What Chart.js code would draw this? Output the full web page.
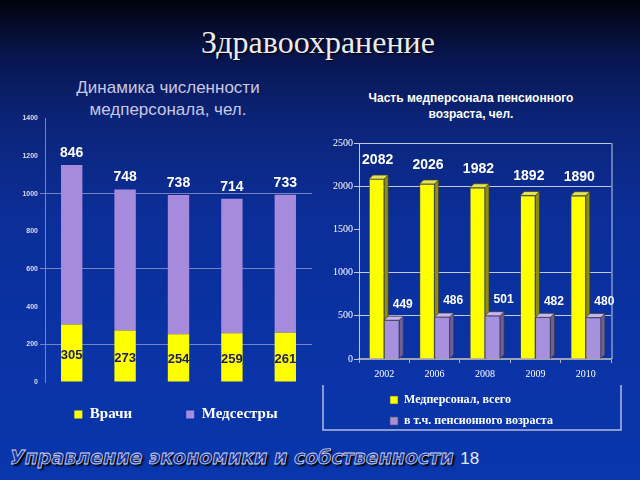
<!DOCTYPE html>
<html>
<head>
<meta charset="utf-8">
<script src="https://cdn.jsdelivr.net/npm/chart.js@4.4.1/dist/chart.umd.min.js"></script>
<style>
  html, body { margin: 0; padding: 0; }
  body {
    width: 640px; height: 480px; overflow: hidden; position: relative;
    background: linear-gradient(to bottom, #01030c 0%, #081650 12%, #0b2478 25%, #0b2e98 45%, #0a33a6 75%, #0936ac 100%);
    font-family: "Liberation Sans", Arial, sans-serif;
  }
  #title { position: absolute; left: 0; top: 24px; width: 636px; text-align: center;
    font: 32px "Liberation Serif", serif; color: #ecebf2; text-shadow: 1px 1px 2px #000; }
  #leftTitle { position: absolute; left: 0; top: 77px; width: 336px; text-align: center;
    font: 17px/22px "Liberation Sans", Arial, sans-serif; color: #c9c8e6; }
  #rightTitle { position: absolute; left: 330px; top: 90px; width: 282px; text-align: center;
    font: bold 12px/16px "Liberation Sans", Arial, sans-serif; color: #fff; }
  #footer { position: absolute; left: 10px; top: 446px; white-space: nowrap;
    font: italic bold 19px "DejaVu Sans", sans-serif; color: #1536a8;
    -webkit-text-stroke: 0.8px #d4d6e8; text-shadow: 2px 2px 2px #000; }
  #footer span { font: 17px "Liberation Sans", Arial, sans-serif; color: #e8e8ff;
    -webkit-text-stroke: 0; text-shadow: none; }
  canvas { position: absolute; }
  #leftChart { left: 0; top: 112px; }
  #rightChart { left: 315px; top: 128px; }
</style>
</head>
<body>
<div id="title">Здравоохранение</div>
<div id="leftTitle">Динамика численности<br>медперсонала, чел.</div>
<div id="rightTitle">Часть медперсонала пенсионного<br>возраста, чел.</div>
<div id="footer">Управление экономики и собственности <span>18</span></div>
<canvas id="leftChart" width="320" height="350"></canvas>
<canvas id="rightChart" width="325" height="312"></canvas>
<script>
// left chart data
const staffYears = ['2002', '2006', '2008', '2009', '2010'];
const doctors = [305, 273, 254, 259, 261];
const nurses = [846, 748, 738, 714, 733];
const staffGridAt = [200, 600, 1000];

// right chart data
const pensionYears = ['2002', '2006', '2008', '2009', '2010'];
const staffTotal = [2082, 2026, 1982, 1892, 1890];
const pensionAge = [449, 486, 501, 482, 480];
const pensionGridAt = [500, 1000, 2000, 2500];

const YELLOW = '#ffff00';
const PURPLE = '#a68bdc';

// value labels on top of / inside bars
const valueLabels = {
  id: 'valueLabels',
  afterDatasetsDraw(chart, args, opts) {
    const ctx = chart.ctx;
    chart.data.datasets.forEach((ds, i) => {
      const cfg = opts.sets[i];
      if (!cfg) return;
      chart.getDatasetMeta(i).data.forEach((bar, j) => {
        const y = cfg.inside ? (bar.y + bar.base) / 2 + cfg.dy : bar.y + cfg.dy;
        ctx.save();
        ctx.font = cfg.font;
        ctx.fillStyle = cfg.color;
        ctx.textAlign = 'center';
        ctx.textBaseline = 'middle';
        ctx.fillText(ds.data[j], bar.x + cfg.dx, y);
        ctx.restore();
      });
    });
  }
};

// fake 3d faces (side + top) for the right chart
const bars3d = {
  id: 'bars3d',
  beforeDatasetsDraw(chart, args, opts) {
    const ctx = chart.ctx;
    const d = opts.depth;
    chart.data.datasets.forEach((ds, i) => {
      const face = opts.faces[i];
      chart.getDatasetMeta(i).data.forEach(bar => {
        const l = bar.x - bar.width / 2, r = bar.x + bar.width / 2;
        ctx.save();
        ctx.strokeStyle = '#3a3a3a';
        ctx.lineWidth = 0.7;
        ctx.fillStyle = face.side;
        ctx.beginPath();
        ctx.moveTo(r, bar.y); ctx.lineTo(r + d, bar.y - d); ctx.lineTo(r + d, bar.base - d); ctx.lineTo(r, bar.base);
        ctx.closePath(); ctx.fill(); ctx.stroke();
        ctx.fillStyle = face.top;
        ctx.beginPath();
        ctx.moveTo(l, bar.y); ctx.lineTo(l + d, bar.y - d); ctx.lineTo(r + d, bar.y - d); ctx.lineTo(r, bar.y);
        ctx.closePath(); ctx.fill(); ctx.stroke();
        ctx.restore();
      });
    });
  }
};

// move the legend after layout
const legendNudge = {
  id: 'legendNudge',
  afterLayout(chart, args, opts) {
    const lg = chart.legend;
    lg.left += opts.dx; lg.right += opts.dx;
    lg.top += opts.dy; lg.bottom += opts.dy;
  }
};

// plot frame + legend box of the right chart
const frame = {
  id: 'frame',
  afterDraw(chart) {
    const ctx = chart.ctx;
    const a = chart.chartArea;
    const lg = chart.legend;
    ctx.save();
    ctx.strokeStyle = '#c3c9e4';
    ctx.lineWidth = 1;
    ctx.beginPath();
    ctx.moveTo(a.right + 1, a.top); ctx.lineTo(a.right + 1, a.bottom);
    ctx.stroke();
    ctx.strokeStyle = '#b4bbdc';
    ctx.lineWidth = 1.5;
    ctx.beginPath();
    ctx.moveTo(8, lg.top); ctx.lineTo(8, lg.bottom - 7);
    ctx.lineTo(a.right + 10, lg.bottom - 7); ctx.lineTo(a.right + 10, lg.top);
    ctx.stroke();
    ctx.restore();
  }
};

const plain = v => String(v);

new Chart(document.getElementById('leftChart'), {
  type: 'bar',
  data: {
    labels: staffYears,
    datasets: [
      { label: 'Врачи', data: doctors, backgroundColor: YELLOW, barPercentage: 0.4, categoryPercentage: 1 },
      { label: 'Медсестры', data: nurses, backgroundColor: PURPLE, barPercentage: 0.4, categoryPercentage: 1 }
    ]
  },
  options: {
    responsive: false,
    animation: false,
    layout: { padding: { top: 5, right: 8, left: 0, bottom: 0 } },
    scales: {
      x: {
        stacked: true,
        grid: { display: false },
        border: { display: false },
        ticks: { color: '#dcdcf0', font: { size: 7, weight: 'bold' }, padding: 8 },
        afterFit: s => { s.height = 1; }
      },
      y: {
        stacked: true,
        min: 0, max: 1400,
        ticks: { stepSize: 200, callback: plain, color: '#dcdcf0', font: { size: 7, weight: 'bold' }, padding: 2 },
        grid: {
          color: c => staffGridAt.includes(c.tick.value) ? '#7583c0' : 'transparent',
          tickLength: 5
        },
        border: { color: '#7583c0' },
        afterFit: s => { s.width = 45; }
      }
    },
    plugins: {
      tooltip: { enabled: false },
      legend: {
        position: 'bottom',
        labels: {
          color: '#fff', boxWidth: 8, boxHeight: 8, padding: 54,
          font: { family: 'Liberation Serif', size: 15, weight: 'bold' }
        }
      },
      legendNudge: { dx: 20, dy: -30 },
      valueLabels: {
        sets: [
          { inside: true, dx: 0, dy: 2, color: '#1c1f5a', font: 'bold 13px "Liberation Sans"' },
          { inside: false, dx: 0, dy: -12, color: '#fff', font: 'bold 14px "Liberation Sans"' }
        ]
      }
    }
  },
  plugins: [valueLabels, legendNudge]
});

new Chart(document.getElementById('rightChart'), {
  type: 'bar',
  data: {
    labels: pensionYears,
    datasets: [
      { label: 'Медперсонал, всего', data: staffTotal, backgroundColor: YELLOW,
        borderColor: '#555', borderWidth: 0.7, barPercentage: 1, categoryPercentage: 0.6 },
      { label: 'в т.ч. пенсионного возраста', data: pensionAge, backgroundColor: '#a791de',
        borderColor: '#555', borderWidth: 0.7, barPercentage: 1, categoryPercentage: 0.6 }
    ]
  },
  options: {
    responsive: false,
    animation: false,
    layout: { padding: { top: 15, right: 29, left: 0, bottom: 3 } },
    scales: {
      x: {
        grid: { drawOnChartArea: false, tickLength: 4, tickColor: '#a8aec8' },
        border: { color: '#9ea2b4', width: 2 },
        ticks: { color: '#fff', font: { family: 'Liberation Serif', size: 10 }, padding: 5 },
        afterFit: s => { s.height = 26; }
      },
      y: {
        min: 0, max: 2500,
        ticks: { stepSize: 500, callback: plain, color: '#fff', font: { family: 'Liberation Serif', size: 10 }, padding: 1 },
        grid: {
          color: c => pensionGridAt.includes(c.tick.value) ? '#c3c9e4' : 'transparent',
          tickColor: '#c3c9e4',
          tickLength: 5
        },
        border: { color: '#c3c9e4' },
        afterFit: s => { s.width = 44; }
      }
    },
    plugins: {
      tooltip: { enabled: false },
      legend: {
        position: 'bottom',
        align: 'start',
        labels: {
          color: '#fff', boxWidth: 8, boxHeight: 8, padding: 9,
          font: { family: 'Liberation Serif', size: 12, weight: 'bold' }
        }
      },
      legendNudge: { dx: 66, dy: 0 },
      bars3d: {
        depth: 4,
        faces: [
          { side: '#8f8f10', top: '#e6e64a' },
          { side: '#6f5f98', top: '#c7b6f0' }
        ]
      },
      valueLabels: {
        sets: [
          { inside: false, dx: 1, dy: -19, color: '#fff', font: 'bold 14px "Liberation Sans"' },
          { inside: false, dx: 11, dy: -16, color: '#fff', font: 'bold 12px "Liberation Sans"' }
        ]
      }
    }
  },
  plugins: [bars3d, valueLabels, legendNudge, frame]
});
</script>
</body>
</html>
